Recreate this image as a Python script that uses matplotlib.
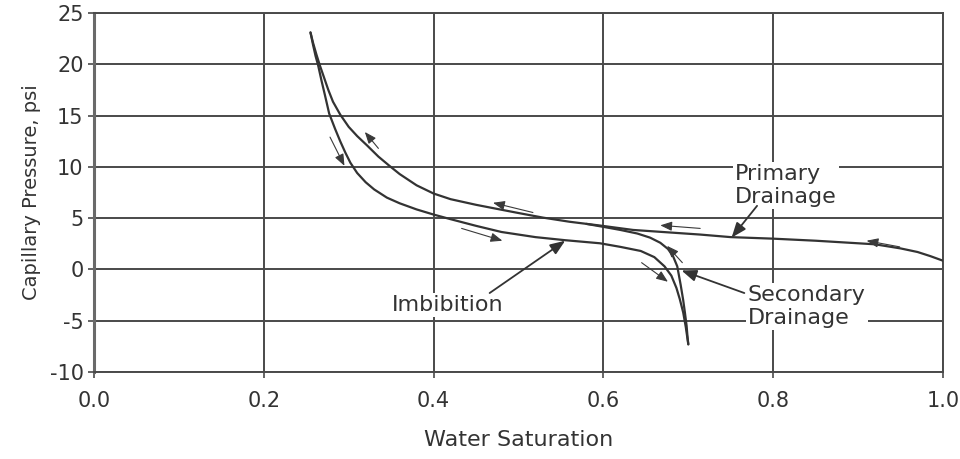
import matplotlib
matplotlib.use("Agg")
import matplotlib.pyplot as plt

plt.rcParams['font.family'] = ['DejaVu Sans']
plt.rcParams['axes.unicode_minus'] = False

# Primary drainage, from Sw = 1.0 towards irreducible water saturation
primary_sw = [1.000, 0.985, 0.970, 0.950, 0.920, 0.890, 0.850, 0.800, 0.750,
              0.714, 0.670, 0.635, 0.596, 0.560, 0.529, 0.500, 0.478, 0.450,
              0.420, 0.400, 0.380, 0.360, 0.348, 0.335, 0.3215, 0.310, 0.300,
              0.290, 0.2815, 0.276, 0.271, 0.266, 0.262, 0.258, 0.255]
primary_pc = [0.85, 1.3, 1.7, 2.05, 2.45, 2.6, 2.8, 3.0, 3.15,
              3.4, 3.65, 3.85, 4.28, 4.65, 5.05, 5.5, 5.85, 6.3,
              6.85, 7.4, 8.2, 9.3, 10.1, 11.0, 12.1, 13.0, 13.9,
              15.1, 16.35, 17.5, 18.7, 19.9, 20.95, 22.1, 23.1]

# Imbibition, from irreducible water saturation to residual oil saturation
imbibition_sw = [0.255, 0.258, 0.261, 0.264, 0.268, 0.272, 0.277, 0.284, 0.290,
                 0.296, 0.302, 0.310, 0.320, 0.330, 0.345, 0.360, 0.380, 0.400,
                 0.420, 0.450, 0.480, 0.520, 0.555, 0.596, 0.620, 0.644, 0.660,
                 0.672, 0.680, 0.686, 0.690, 0.694, 0.697, 0.700]
imbibition_pc = [23.1, 21.9, 20.8, 19.9, 18.4, 17.0, 15.2, 13.7, 12.5,
                 11.4, 10.4, 9.4, 8.5, 7.8, 7.0, 6.45, 5.85, 5.35,
                 4.9, 4.25, 3.65, 3.15, 2.85, 2.55, 2.2, 1.8, 1.2,
                 0.3, -0.6, -1.8, -2.9, -4.2, -5.6, -7.3]

# Secondary drainage, rejoining the primary curve
secondary_sw = [0.700, 0.699, 0.698, 0.696, 0.694, 0.691, 0.687, 0.682, 0.676,
                0.667, 0.655, 0.640, 0.620, 0.600, 0.580]
secondary_pc = [-7.3, -6.5, -5.5, -4.2, -3.0, -1.5, 0.3, 1.3, 2.0,
                2.6, 3.1, 3.5, 3.85, 4.15, 4.44]

# Direction-of-travel arrows: (tail Sw, tail Pc, head Sw, head Pc)
direction_arrows = [
    (0.335, 11.8, 0.319, 13.4),
    (0.278, 12.9, 0.295, 10.1),
    (0.517, 5.55, 0.470, 6.5),
    (0.433, 4.0, 0.481, 2.8),
    (0.714, 4.0, 0.667, 4.3),
    (0.949, 2.2, 0.910, 2.8),
    (0.693, 0.66, 0.675, 2.3),
    (0.645, 0.66, 0.676, -1.2),
]

# Curve labels: text, text position (left, centre), arrow tail, arrow head
curve_labels = [
    ("Primary\nDrainage", (0.755, 8.2), (0.781, 6.2), (0.751, 3.1)),
    ("Secondary\nDrainage", (0.770, -3.6), (0.766, -2.3), (0.692, -0.1)),
    ("Imbibition", (0.351, -3.45), (0.466, -2.3), (0.555, 2.8)),
]

x_ticks = [0.0, 0.2, 0.4, 0.6, 0.8, 1.0]
y_ticks = [-10, -5, 0, 5, 10, 15, 20, 25]

ink = '#333333'
grid_col = '#4a4a4a'

fig = plt.figure(figsize=(9.6, 4.59), dpi=100)
ax = fig.add_axes([0.0979, 0.1895, 0.8844, 0.7822])

ax.set_xlim(0.0, 1.0)
ax.set_ylim(-10, 25)
ax.set_xticks(x_ticks)
ax.set_xticklabels([f"{v:.1f}" for v in x_ticks])
ax.set_yticks(y_ticks)
ax.set_yticklabels([str(v) for v in y_ticks])

ax.grid(True, color=grid_col, linewidth=1.4)
ax.set_axisbelow(True)
for sp in ax.spines.values():
    sp.set_color(grid_col)
    sp.set_linewidth(1.4)
ax.spines['left'].set_color('#6a6a6a')
ax.spines['left'].set_linewidth(2.2)

ax.tick_params(axis='both', direction='out', length=4.5, width=1.2,
               color=grid_col, labelcolor=ink, labelsize=15)
ax.tick_params(axis='x', pad=9)
ax.tick_params(axis='y', pad=3)

ax.set_xlabel("Water Saturation", fontsize=16, color=ink, labelpad=14)
ax.set_ylabel("Capillary Pressure, psi", fontsize=14, color=ink, labelpad=6)

curve_kw = dict(color=ink, linewidth=1.6, solid_capstyle='round',
                solid_joinstyle='round', zorder=3)
ax.plot(primary_sw, primary_pc, **curve_kw)
ax.plot(imbibition_sw, imbibition_pc, **curve_kw)
ax.plot(secondary_sw, secondary_pc, **curve_kw)

for tx, ty, hx, hy in direction_arrows:
    ax.annotate('', xy=(hx, hy), xytext=(tx, ty),
                arrowprops=dict(arrowstyle='-|>,head_length=0.7,head_width=0.28',
                                color='#3a3a3a', lw=0.8, shrinkA=0, shrinkB=0),
                zorder=4)

for text, pos, tail, head in curve_labels:
    ax.text(pos[0], pos[1], text, fontsize=16, color=ink, ha='left', va='center',
            multialignment='left', linespacing=1.15, zorder=5,
            bbox=dict(facecolor='white', edgecolor='none', pad=1.5))
    ax.annotate('', xy=head, xytext=tail,
                arrowprops=dict(arrowstyle='-|>,head_length=0.9,head_width=0.35',
                                color=ink, lw=1.3, shrinkA=0, shrinkB=0),
                zorder=5)

fig.savefig("out.png", dpi=100)
